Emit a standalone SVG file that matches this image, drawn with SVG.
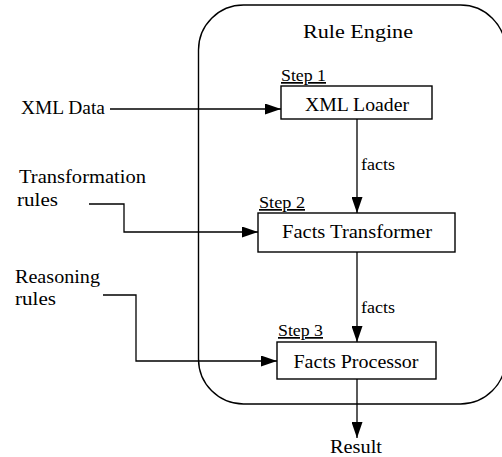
<svg xmlns="http://www.w3.org/2000/svg" width="502" height="457" viewBox="0 0 502 457">
<style>
text{font-family:"Liberation Serif","Times New Roman",serif;font-size:18.5px;fill:#000}
.c{text-anchor:middle}
.f{font-size:17.5px}
.s{font-size:17px;text-decoration:underline}
.box{fill:#fff;stroke:#000;stroke-width:1.4}
.ln{fill:none;stroke:#000;stroke-width:1.3}
</style>
<defs>
<marker id="ah" markerWidth="16" markerHeight="11" refX="16" refY="5.5" orient="auto" markerUnits="userSpaceOnUse">
<path d="M0,0 L16,5.5 L0,11 Z" fill="#000"/>
</marker>
</defs>
<g id="engine">
<rect x="198.5" y="5" width="307" height="399" rx="45" ry="45" fill="none" stroke="#000" stroke-width="1.4"/>
<text x="358" y="38" class="c" textLength="110" lengthAdjust="spacingAndGlyphs">Rule Engine</text>
</g>
<g id="connectors">
<line class="ln" x1="110" y1="109" x2="281" y2="109" marker-end="url(#ah)"/>
<line class="ln" x1="357" y1="119" x2="357" y2="213" marker-end="url(#ah)"/>
<line class="ln" x1="357" y1="252" x2="357" y2="342" marker-end="url(#ah)"/>
<polyline class="ln" points="89,204 124,204 124,232 258,232" marker-end="url(#ah)"/>
<polyline class="ln" points="103,295 136,295 136,361 277,361" marker-end="url(#ah)"/>
<line class="ln" x1="357" y1="379" x2="357" y2="438" marker-end="url(#ah)"/>
<text x="361" y="170" class="f" textLength="34" lengthAdjust="spacingAndGlyphs">facts</text>
<text x="361" y="313" class="f" textLength="34" lengthAdjust="spacingAndGlyphs">facts</text>
</g>
<g id="xmldata">
<text x="21" y="114" textLength="84" lengthAdjust="spacingAndGlyphs">XML Data</text>
</g>
<g id="transrules">
<text x="19" y="183" textLength="127" lengthAdjust="spacingAndGlyphs">Transformation</text>
<text x="17" y="206" textLength="41" lengthAdjust="spacingAndGlyphs">rules</text>
</g>
<g id="reasonrules">
<text x="15" y="283" textLength="85" lengthAdjust="spacingAndGlyphs">Reasoning</text>
<text x="15" y="305" textLength="41" lengthAdjust="spacingAndGlyphs">rules</text>
</g>
<g id="step1">
<text x="281" y="81" class="s" textLength="45" lengthAdjust="spacingAndGlyphs">Step 1</text>
<rect class="box" x="281" y="86" width="151" height="33"/>
<text x="357" y="111" class="c" textLength="104" lengthAdjust="spacingAndGlyphs">XML Loader</text>
</g>
<g id="step2">
<text x="259" y="208" class="s" textLength="46" lengthAdjust="spacingAndGlyphs">Step 2</text>
<rect class="box" x="258" y="213" width="197" height="39"/>
<text x="357" y="238" class="c" textLength="150" lengthAdjust="spacingAndGlyphs">Facts Transformer</text>
</g>
<g id="step3">
<text x="278" y="336" class="s" textLength="45" lengthAdjust="spacingAndGlyphs">Step 3</text>
<rect class="box" x="277" y="342" width="159" height="37"/>
<text x="356" y="368" class="c" textLength="125" lengthAdjust="spacingAndGlyphs">Facts Processor</text>
</g>
<g id="result">
<text x="356" y="453" class="c" textLength="52" lengthAdjust="spacingAndGlyphs">Result</text>
</g>
</svg>
